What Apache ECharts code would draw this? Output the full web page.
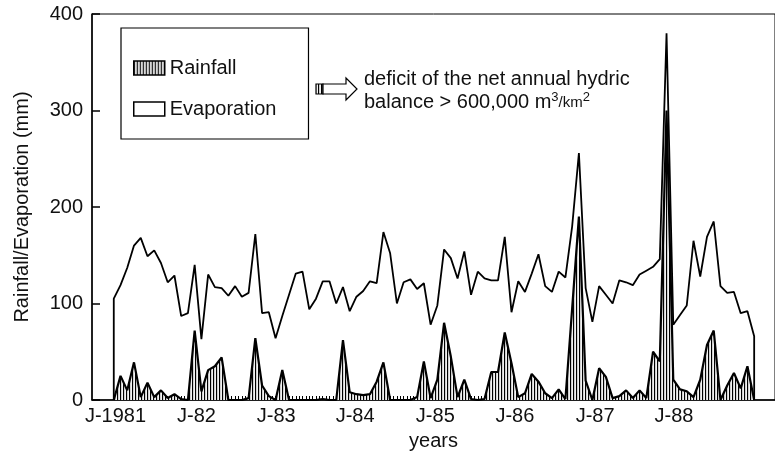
<!DOCTYPE html>
<html>
<head>
<meta charset="utf-8">
<title>Rainfall / Evaporation</title>
<script src="https://cdn.jsdelivr.net/npm/echarts@6/dist/echarts.min.js"></script>
<style>
    html, body { margin: 0; padding: 0; background: #fff; }
    #main { width: 775px; height: 456px; }
</style>
</head>
<body>
<div id="main"></div>
<script>
// monthly values, Jan 1981 .. Dec 1988 (mm)
var evaporation = [105, 119, 137, 160, 168, 149, 155, 142, 122, 129, 87, 90,
    140, 63, 130, 117, 116, 108, 118, 107, 111, 172, 90, 91,
    64, 87, 109, 131, 133, 94, 105, 123, 123, 100, 117, 92,
    107, 113, 123, 121, 174, 152, 100, 122, 125, 115, 121, 78,
    98, 156, 147, 126, 154, 109, 133, 126, 124, 124, 169, 91,
    123, 112, 131, 151, 118, 112, 133, 127, 180, 256, 116, 81,
    118, 109, 100, 124, 122, 119, 130, 134, 138, 146, 380, 78,
    88, 98, 165, 128, 169, 185, 118, 111, 112, 90, 92, 66];
var rainfall = [0, 25, 10, 39, 3, 18, 3, 10, 2, 6, 1, 0,
    72, 9, 31, 35, 44, 0, 0, 0, 2, 64, 15, 4,
    0, 31, 0, 0, 0, 0, 0, 1, 0, 0, 62, 8,
    6, 5, 6, 19, 39, 0, 0, 0, 0, 3, 40, 2,
    21, 80, 45, 3, 21, 1, 0, 1, 29, 29, 70, 38,
    3, 7, 27, 19, 7, 2, 11, 1, 95, 190, 20, 0,
    33, 24, 2, 4, 10, 2, 10, 2, 50, 40, 300, 21,
    11, 9, 3, 21, 57, 72, 0, 15, 28, 12, 35, 0];
// tick labels (month index where each label sits)
var xLabels = ['J-1981', 'J-82', 'J-83', 'J-84', 'J-85', 'J-86', 'J-87', 'J-88'];
var xLabelPos = [0.26, 12.26, 24.1, 35.8, 47.7, 59.5, 71.4, 83.1];

var font = '"Liberation Sans", Arial, Helvetica, sans-serif';

// hatch pattern for the rainfall area
var hatch = document.createElement('canvas');
hatch.width = 3;
hatch.height = 3;
var ctx = hatch.getContext('2d');
ctx.fillStyle = '#cfcfcf';
ctx.fillRect(0, 0, 3, 3);
ctx.fillStyle = '#000';
ctx.fillRect(0, 0, 1, 3);
ctx.fillStyle = '#f2f2f2';
ctx.fillRect(2, 0, 1, 3);
var hatchFill = { image: hatch, repeat: 'repeat' };

// evaporation drawn as a closed outline (starts and ends on 0)
var evapData = [[0, 0]];
evaporation.forEach(function (v, i) { evapData.push([i, v]); });
evapData.push([evaporation.length - 1, 0]);
var rainData = rainfall.map(function (v, i) { return [i, v]; });

// small half-month ticks along the baseline
var halfMonths = [];
for (var k = 0; k <= (rainfall.length - 1) * 2; k++) {
    halfMonths.push(k / 2);
}

var myChart = echarts.init(document.getElementById('main'));
var option = {
    animation: false,
    textStyle: { fontFamily: font, color: '#111' },
    grid: {
        left: 92, top: 14, width: 690, height: 386,
        show: true, borderColor: '#000', borderWidth: 1, backgroundColor: 'transparent'
    },
    legend: {
        orient: 'vertical',
        left: 121,
        top: 28,
        icon: 'rect',
        itemWidth: 31,
        itemHeight: 14,
        itemGap: 21,
        padding: [30, 32, 20, 12],
        borderColor: '#000',
        borderWidth: 1.2,
        selectedMode: false,
        textStyle: { fontSize: 20, color: '#111', fontFamily: font },
        data: [
            { name: 'Rainfall', itemStyle: { color: hatchFill, borderColor: '#000', borderWidth: 1.5 } },
            { name: 'Evaporation', itemStyle: { color: '#fff', borderColor: '#000', borderWidth: 1.5 } }
        ]
    },
    xAxis: {
        type: 'value',
        min: -3.23,
        max: 98.09,
        name: 'years',
        nameLocation: 'middle',
        nameGap: 31,
        nameTextStyle: { fontSize: 20, color: '#111' },
        axisLine: { onZero: false, lineStyle: { color: '#000', width: 1.5 } },
        axisTick: {
            show: true, inside: true, length: 4,
            customValues: halfMonths,
            lineStyle: { color: '#000', width: 1 }
        },
        axisLabel: {
            customValues: xLabelPos,
            fontSize: 20,
            color: '#111',
            margin: 6,
            formatter: function (v) {
                var best = 0;
                for (var i = 1; i < xLabelPos.length; i++) {
                    if (Math.abs(xLabelPos[i] - v) < Math.abs(xLabelPos[best] - v)) best = i;
                }
                return xLabels[best];
            }
        },
        splitLine: { show: false }
    },
    yAxis: {
        type: 'value',
        min: 0,
        max: 400,
        interval: 100,
        name: 'Rainfall/Evaporation (mm)',
        nameLocation: 'middle',
        nameGap: 60,
        nameTextStyle: { fontSize: 20, color: '#111' },
        axisLine: { show: true, onZero: false, lineStyle: { color: '#000', width: 1.5 } },
        axisTick: { show: true, inside: true, length: 8, lineStyle: { color: '#000', width: 1.5 } },
        axisLabel: { fontSize: 20, color: '#111', margin: 9 },
        splitLine: { show: false }
    },
    graphic: [
        { // arrow tail (hatched)
            type: 'rect',
            shape: { x: 316, y: 84, width: 7, height: 10 },
            style: { fill: hatchFill, stroke: '#000', lineWidth: 1.2 }
        },
        { // arrow body
            type: 'polygon',
            shape: { points: [[323, 84], [346, 84], [346, 78], [357, 89], [346, 100], [346, 94], [323, 94]] },
            style: { fill: '#fff', stroke: '#000', lineWidth: 1.2 }
        },
        {
            type: 'text',
            x: 364,
            y: 68,
            style: {
                text: 'deficit of the net annual hydric\nbalance > 600,000 m{sup|3}{sm|/km}{sup|2}',
                font: '20px ' + font,
                fill: '#111',
                lineHeight: 23,
                rich: {
                    sup: { fontSize: 13, verticalAlign: 'top', fontFamily: font, fill: '#111' },
                    sm: { fontSize: 15, fontFamily: font, fill: '#111' }
                }
            }
        }
    ],
    series: [
        {
            name: 'Evaporation',
            type: 'line',
            data: evapData,
            symbol: 'none',
            lineStyle: { color: '#000', width: 1.8 },
            itemStyle: { color: '#000' },
            z: 2
        },
        {
            name: 'Rainfall',
            type: 'line',
            data: rainData,
            symbol: 'none',
            lineStyle: { color: '#000', width: 2.2 },
            itemStyle: { color: '#000' },
            areaStyle: { color: hatchFill, opacity: 1 },
            z: 3
        }
    ]
};
myChart.setOption(option);
</script>
</body>
</html>
